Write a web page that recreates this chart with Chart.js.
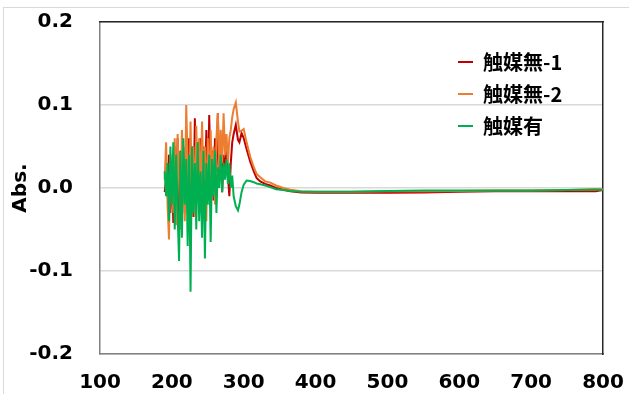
<!DOCTYPE html>
<html>
<head>
<meta charset="utf-8">
<script src="https://cdn.jsdelivr.net/npm/chart.js@4/dist/chart.umd.min.js"></script>
<style>
  body { margin: 0; background: #fff; }
  #wrap { position: relative; width: 629px; height: 394px; }
  #frame { position: absolute; left: 3px; top: 7px; width: 640px; height: 400px; border: 1px solid #d9d9d9; pointer-events: none; }
</style>
</head>
<body>
<div id="wrap">
  <canvas id="chart" width="629" height="394"></canvas>
  <div id="frame"></div>
</div>
<script>
// 波長 (nm)
const wavelengths = [
  190, 192, 194, 196, 198, 200, 202, 204, 206, 208, 210, 212, 214, 216, 218, 220,
  222, 224, 226, 228, 230, 232, 234, 236, 238, 240, 242, 244, 246, 248, 250, 252,
  254, 256, 258, 260, 262, 264, 266, 268, 270, 272, 274, 276, 278, 280, 282, 284,
  286, 289, 292, 294, 297, 300, 304, 309, 314, 318, 323, 330, 337, 345, 355, 365,
  380, 400, 450, 500, 550, 600, 650, 700, 750, 790, 800
];

// 触媒無-1
const noCat1 = [
  -0.005, 0.01, -0.01, 0.04, -0.03, 0.03, -0.042, 0.05, -0.02, 0.06, -0.035, 0.045, 0.0, 0.05, -0.03, 0.04,
  -0.02, 0.06, -0.01, 0.05, -0.035, 0.084, 0.0, 0.055, -0.025, 0.06, -0.015, 0.05, 0.0, 0.07, -0.01, 0.088,
  0.01, 0.045, -0.015, 0.06, 0.02, 0.09, 0.01, 0.05, -0.005, 0.04, 0.02, 0.045, 0.015, -0.01, 0.03, 0.055,
  0.065, 0.076, 0.058, 0.055, 0.066, 0.06, 0.047, 0.032, 0.02, 0.012, 0.008, 0.005, 0.003, 0.0, -0.002, -0.004,
  -0.0055, -0.0056, -0.0056, -0.0056, -0.0055, -0.0045, -0.004, -0.004, -0.004, -0.004, -0.0025
];

// 触媒無-2
const noCat2 = [
  0.01, 0.055, -0.02, -0.062, 0.04, 0.02, -0.03, 0.06, -0.045, 0.065, 0.01, -0.05, 0.07, 0.02, -0.04, 0.10,
  0.03, -0.03, 0.08, -0.01, 0.05, -0.035, 0.075, 0.0, 0.06, -0.02, 0.08, 0.01, 0.05, -0.04, 0.06, -0.01,
  0.07, 0.0, 0.05, -0.02, 0.06, 0.09, 0.02, 0.07, 0.03, 0.09, 0.04, 0.065, 0.03, 0.06, 0.07, 0.085,
  0.095, 0.103, 0.08, 0.068, 0.069, 0.071, 0.055, 0.038, 0.025, 0.017, 0.013, 0.008, 0.0065, 0.003, 0.0, -0.002,
  -0.004, -0.0045, -0.0045, -0.004, -0.0038, -0.0035, -0.003, -0.003, -0.0025, -0.0012, -0.0015
];

// 触媒有
const withCat = [
  0.02, -0.01, 0.03, -0.04, 0.05, -0.02, 0.055, -0.05, 0.04, -0.03, -0.088, 0.045, -0.06, 0.06, -0.02, 0.035,
  -0.07, 0.04, -0.125, 0.05, -0.03, 0.03, -0.05, 0.055, -0.04, 0.02, -0.06, 0.045, -0.085, 0.03, -0.02, 0.04,
  -0.065, 0.035, -0.01, 0.045, -0.03, 0.025, 0.0, 0.04, -0.005, 0.03, 0.01, 0.035, 0.005, 0.03, 0.0, 0.015,
  -0.01, -0.022, -0.027, -0.02, -0.005, 0.004, 0.009, 0.0085, 0.007, 0.0055, 0.0045, 0.003, 0.001, -0.0015, -0.0025, -0.0035,
  -0.0044, -0.0045, -0.0044, -0.0035, -0.003, -0.003, -0.003, -0.003, -0.0025, -0.0022, -0.002
];

const xTicks = [100, 200, 300, 400, 500, 600, 700, 800];
const yTicks = [-0.2, -0.1, 0.0, 0.1, 0.2];

function toPoints(ys) {
  return wavelengths.map((x, i) => ({ x: x, y: ys[i] }));
}

function series(label, ys, color, order) {
  return {
    label: label,
    data: toPoints(ys),
    borderColor: color,
    backgroundColor: color,
    borderWidth: 2,
    pointRadius: 0,
    pointStyle: "line",
    tension: 0,
    order: order,
  };
}

const tickFont = { family: "DejaVu Sans", size: 20, weight: "bold" };

// 凡例をプロットエリア内の右上に置く
const legendPlace = {
  id: "legendPlace",
  afterLayout(chart) {
    const lg = chart.legend;
    lg.left = 446;
    lg.top = 40;
    lg.right = lg.left + lg.width;
    lg.bottom = lg.top + lg.height;
  },
};

new Chart(document.getElementById("chart"), {
  type: "line",
  data: {
    datasets: [
      series("触媒無-1", noCat1, "#C00000", 3),
      series("触媒無-2", noCat2, "#ED7D31", 2),
      series("触媒有", withCat, "#00B050", 1),
    ],
  },
  options: {
    responsive: false,
    animation: false,
    events: [],
    layout: { padding: { left: 0, top: 22, right: 26, bottom: 0 } },
    plugins: {
      legend: {
        position: "chartArea",
        align: "start",
        labels: {
          usePointStyle: true,
          pointStyleWidth: 15,
          padding: 12,
          color: "#000",
          font: { family: "Noto Sans CJK JP", size: 20, weight: "bold" },
          sort: (a, b) => a.datasetIndex - b.datasetIndex,
        },
      },
      tooltip: { enabled: false },
    },
    scales: {
      x: {
        type: "linear",
        min: 100,
        max: 800,
        afterBuildTicks: (s) => { s.ticks = xTicks.map((v) => ({ value: v })); },
        afterFit: (s) => { s.height = 40; },
        grid: { display: false, drawTicks: true, tickLength: 17 },
        border: { display: true, color: "#808080", width: 1.5 },
        ticks: { color: "#000", font: tickFont, padding: 0, maxRotation: 0 },
      },
      y: {
        min: -0.2,
        max: 0.2,
        afterBuildTicks: (s) => { s.ticks = yTicks.map((v) => ({ value: v })); },
        afterFit: (s) => { s.width = 100; },
        grid: { color: "#d9d9d9", lineWidth: 1.5, drawTicks: true, tickLength: 27, tickColor: "rgba(0,0,0,0)" },
        border: { display: true, color: "#808080", width: 1.5 },
        ticks: {
          color: "#000",
          font: tickFont,
          padding: 0,
          callback: (v) => v.toFixed(1),
        },
        title: {
          display: true,
          text: "Abs.",
          color: "#000",
          font: tickFont,
          padding: { top: 9, bottom: 0 },
        },
      },
      xTop: {
        type: "linear",
        position: "top",
        min: 100,
        max: 800,
        afterFit: (s) => { s.height = 0; },
        grid: { display: false, drawTicks: false },
        border: { display: true, color: "#262626", width: 1.5 },
        ticks: { display: false, padding: 0 },
      },
      yRight: {
        position: "right",
        min: -0.2,
        max: 0.2,
        afterFit: (s) => { s.width = 0; },
        grid: { display: false, drawTicks: false },
        border: { display: true, color: "#262626", width: 1.5 },
        ticks: { display: false, padding: 0 },
      },
    },
  },
  plugins: [legendPlace],
});
</script>
</body>
</html>
